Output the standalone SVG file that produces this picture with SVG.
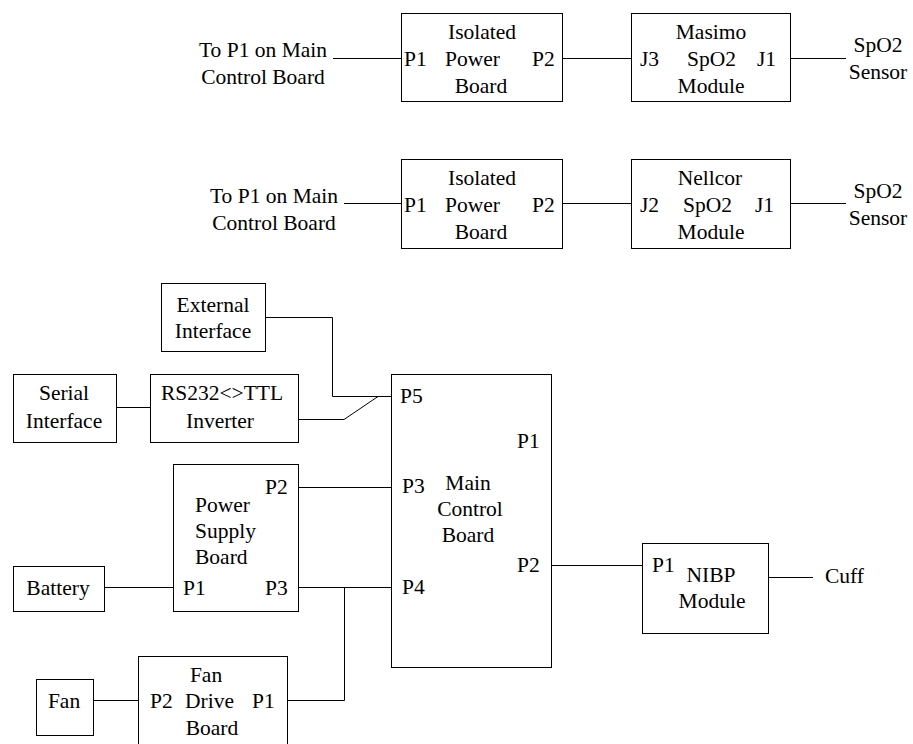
<svg xmlns="http://www.w3.org/2000/svg" width="913" height="744" viewBox="0 0 913 744" font-family="Liberation Serif, Times New Roman, serif" font-size="21.5">
<style>
.c{text-anchor:middle}
.b{fill:#fff;stroke:#000;stroke-width:1}
.w path{fill:none;stroke:#000;stroke-width:1}
</style>
<rect x="0" y="0" width="913" height="744" fill="#fff"/>
<g class="w" id="connectors">
<path d="M333,58.5H401.5"/>
<path d="M562.5,58.5H631.5"/>
<path d="M790.5,58.5H846"/>
<path d="M344,203.5H401.5"/>
<path d="M562.5,203.5H631.5"/>
<path d="M790.5,203.5H846"/>
<path d="M265.5,317.5H332.5V396.5H391.5"/>
<path d="M298.5,419.5H344L378,396.5"/>
<path d="M116.5,407.5H150.5"/>
<path d="M298.5,487.5H391.5"/>
<path d="M298.5,587.5H391.5"/>
<path d="M344.5,587.5V700.5H287.5"/>
<path d="M104.5,587.5H173.5"/>
<path d="M93.5,700.5H138.5"/>
<path d="M551.5,565.5H642.5"/>
<path d="M768.5,577.5H813"/>
</g>
<g id="to-p1-a"><text class="c" x="263" y="57">To P1 on Main</text><text class="c" x="263" y="84">Control Board</text></g>
<g id="isolated-a"><rect class="b" x="401.5" y="13.5" width="161" height="88"/><text class="c" x="482" y="39">Isolated</text><text x="404" y="66">P1</text><text x="445" y="66">Power</text><text x="532" y="66">P2</text><text class="c" x="481" y="93">Board</text></g>
<g id="masimo"><rect class="b" x="631.5" y="13.5" width="159" height="88"/><text class="c" x="711" y="39">Masimo</text><text x="640" y="66">J3</text><text x="687" y="66">SpO2</text><text x="757" y="66">J1</text><text class="c" x="711" y="93">Module</text></g>
<g id="sensor-a"><text class="c" x="878" y="52">SpO2</text><text class="c" x="878" y="79">Sensor</text></g>
<g id="to-p1-b"><text class="c" x="274" y="203">To P1 on Main</text><text class="c" x="274" y="230">Control Board</text></g>
<g id="isolated-b"><rect class="b" x="401.5" y="159.5" width="161" height="89"/><text class="c" x="482" y="185">Isolated</text><text x="404" y="212">P1</text><text x="445" y="212">Power</text><text x="532" y="212">P2</text><text class="c" x="481" y="239">Board</text></g>
<g id="nellcor"><rect class="b" x="631.5" y="159.5" width="159" height="89"/><text class="c" x="710" y="185">Nellcor</text><text x="640" y="212">J2</text><text x="683" y="212">SpO2</text><text x="755" y="212">J1</text><text class="c" x="711" y="239">Module</text></g>
<g id="sensor-b"><text class="c" x="878" y="198">SpO2</text><text class="c" x="878" y="225">Sensor</text></g>
<g id="external"><rect class="b" x="161.5" y="283.5" width="104" height="68"/><text class="c" x="213" y="312">External</text><text class="c" x="213" y="338">Interface</text></g>
<g id="serial"><rect class="b" x="13.5" y="374.5" width="103" height="68"/><text class="c" x="64" y="400">Serial</text><text class="c" x="64" y="428">Interface</text></g>
<g id="rs232"><rect class="b" x="150.5" y="374.5" width="148" height="68"/><text class="c" x="222" y="400">RS232&lt;&gt;TTL</text><text class="c" x="220" y="428">Inverter</text></g>
<g id="main"><rect class="b" x="391.5" y="374.5" width="160" height="293"/><text x="400" y="403">P5</text><text x="517" y="448">P1</text><text x="402" y="493">P3</text><text class="c" x="468" y="490">Main</text><text class="c" x="470" y="516">Control</text><text class="c" x="468" y="542">Board</text><text x="517" y="572">P2</text><text x="402" y="594">P4</text></g>
<g id="psu"><rect class="b" x="173.5" y="464.5" width="125" height="147"/><text x="265" y="494">P2</text><text x="195" y="512">Power</text><text x="195" y="538">Supply</text><text x="195" y="564">Board</text><text x="183" y="595">P1</text><text x="265" y="595">P3</text></g>
<g id="battery"><rect class="b" x="13.5" y="566.5" width="91" height="45"/><text class="c" x="58" y="595">Battery</text></g>
<g id="fan-drive"><rect class="b" x="138.5" y="656.5" width="149" height="95"/><text class="c" x="206" y="682">Fan</text><text x="150" y="708">P2</text><text x="185" y="708">Drive</text><text x="252" y="708">P1</text><text class="c" x="212" y="735">Board</text></g>
<g id="fan"><rect class="b" x="36.5" y="679.5" width="57" height="56"/><text class="c" x="64" y="708">Fan</text></g>
<g id="nibp"><rect class="b" x="642.5" y="543.5" width="126" height="90"/><text x="652" y="572">P1</text><text class="c" x="711" y="582">NIBP</text><text class="c" x="712" y="608">Module</text></g>
<g id="cuff"><text x="825" y="583">Cuff</text></g>
</svg>
